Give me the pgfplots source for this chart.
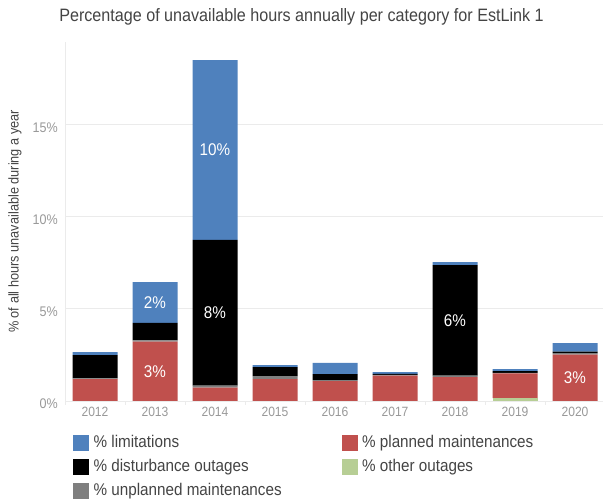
\documentclass[border=0pt]{standalone}
\usepackage{fontspec}
\setmainfont[FakeStretch=0.9]{Liberation Sans}
\usepackage{pgfplots}
\pgfplotsset{compat=1.18}
\usepackage{pgfplotstable}
\definecolor{clim}{HTML}{4F81BD}
\definecolor{cplan}{HTML}{C0504D}
\definecolor{cunpl}{HTML}{7F7F7F}
\definecolor{cdist}{HTML}{000000}
\definecolor{cother}{HTML}{B7CE95}
\definecolor{gridc}{HTML}{EBEBEB}
\definecolor{tickc}{HTML}{999999}
\definecolor{textc}{HTML}{444444}
\newcommand\fs[1]{\fontsize{#1}{#1}\selectfont}
\pgfplotstableread{
x green red gray black blue
0 0    1.18 0.05 1.26 0.16
1 0    3.22 0.06 0.95 2.22
2 0    0.72 0.11 7.90 9.75
3 0    1.19 0.16 0.49 0.11
4 0    1.08 0.05 0.33 0.60
5 0    1.37 0.05 0.05 0.10
6 0    1.30 0.07 6.00 0.16
7 0.16 1.34 0.03 0.09 0.11
8 0    2.52 0.07 0.09 0.46
}\data
\pgfplotstableread{
x y label
1 1.61 3
1 5.34 2
2 4.78 8
2 13.60 10
6 4.37 6
8 1.26 3
}\labels
\begin{document}
\begin{tikzpicture}
\useasboundingbox (0,0) rectangle (603bp,499bp);
\begin{axis}[
  at={(65bp,98bp)}, anchor=south west,
  scale only axis, width=540bp, height=359bp,
  ybar stacked, bar width=45bp,
  xmin=-0.5, xmax=8.5, ymin=0, ymax=19.46,
  axis lines=left, axis line style={draw=gridc, line width=0.8pt, -},
  xtick={0,1,2,3,4,5,6,7,8},
  xticklabels={2012,2013,2014,2015,2016,2017,2018,2019,2020},
  ytick={0,5,10,15}, yticklabels={0\%,5\%,10\%,15\%},
  major tick length=0pt,
  extra x ticks={-0.5,0.5,1.5,2.5,3.5,4.5,5.5,6.5,7.5,8.5},
  extra x tick labels={},
  extra x tick style={major tick length=4bp, tick align=outside, tick style={draw=gridc, line width=0.8pt}, grid=none},
  ymajorgrids, grid style={draw=gridc, line width=0.8pt},
  /pgf/number format/assume math mode=true,
  xticklabel style={font=\fs{13.5}, text=tickc, inner sep=0pt, anchor=north, yshift=-6bp},
  yticklabel style={font=\fs{14}, text=tickc, inner sep=0pt, anchor=east, xshift=-7bp, yshift=-3bp},
  ylabel={\% of all hours unavailable during a year},
  ylabel style={font=\fs{14.2}, text=textc, at={(axis description cs:-0.0926,0.5)}, anchor=center, rotate=0},
  title={Percentage of unavailable hours annually per category for EstLink 1},
  title style={font=\fs{18}, text=textc, at={(axis description cs:0.438,1.041)}, anchor=base, inner sep=0pt},
  legend columns=2,
  legend cell align=left,
  legend style={at={(axis description cs:0,0)}, anchor=north west, xshift=8bp, yshift=-33bp,
    draw=none, fill=none, inner sep=0pt, font=\fs{17}, text=textc,
    row sep=7bp,
    nodes={inner sep=0pt, text height=13bp, text depth=4bp},
    /tikz/every even column/.append style={column sep=60bp},
    /tikz/every odd column/.append style={column sep=5bp}},
]
\addplot[fill=cother, draw=none, forget plot] table[x=x,y=green]{\data};
\addplot[fill=cplan, draw=none, forget plot] table[x=x,y=red]{\data};
\addplot[fill=cunpl, draw=none, forget plot] table[x=x,y=gray]{\data};
\addplot[fill=cdist, draw=none, forget plot] table[x=x,y=black]{\data};
\addplot[fill=clim, draw=none, forget plot] table[x=x,y=blue]{\data};
\addlegendimage{legend image code/.code={\fill[clim] (0bp,-7.5bp) rectangle (15bp,7.5bp);}}
\addlegendentry{\% limitations}
\addlegendimage{legend image code/.code={\fill[cplan] (0bp,-7.5bp) rectangle (15bp,7.5bp);}}
\addlegendentry{\% planned maintenances}
\addlegendimage{legend image code/.code={\fill[cdist] (0bp,-7.5bp) rectangle (15bp,7.5bp);}}
\addlegendentry{\% disturbance outages}
\addlegendimage{legend image code/.code={\fill[cother] (0bp,-7.5bp) rectangle (15bp,7.5bp);}}
\addlegendentry{\% other outages}
\addlegendimage{legend image code/.code={\fill[cunpl] (0bp,-7.5bp) rectangle (15bp,7.5bp);}}
\addlegendentry{\% unplanned maintenances}
\end{axis}
\begin{axis}[
  at={(65bp,98bp)}, anchor=south west,
  scale only axis, width=540bp, height=359bp,
  xmin=-0.5, xmax=8.5, ymin=0, ymax=19.46,
  hide axis,
]
\addplot[draw=none, mark=none, nodes near coords={\pgfplotspointmeta\%},
  point meta=explicit symbolic,
  every node near coord/.append style={anchor=center, text=white, font=\fs{17}, inner sep=0pt}]
  table[x=x,y=y,meta=label]{\labels};
\end{axis}
\end{tikzpicture}
\end{document}
